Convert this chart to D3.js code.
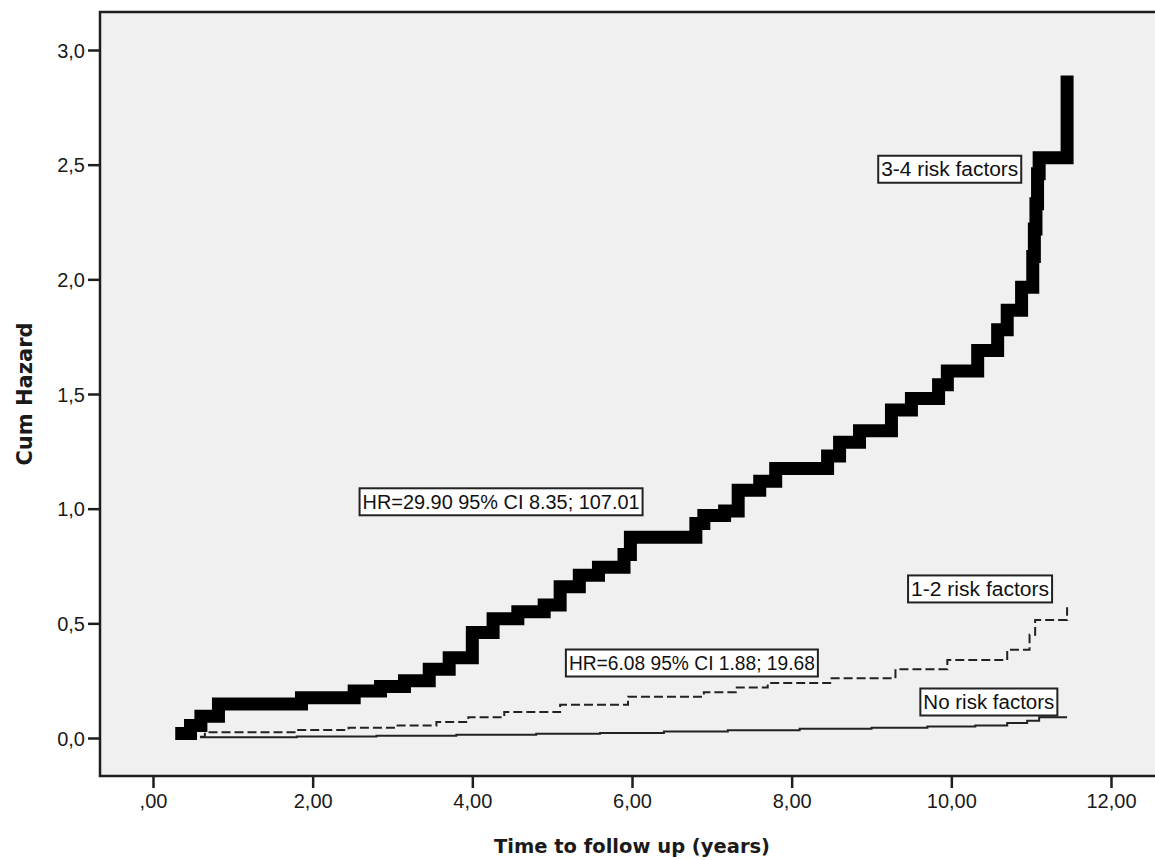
<!DOCTYPE html>
<html>
<head>
<meta charset="utf-8">
<title>Cum Hazard</title>
<style>
    body{
        margin: 0;
        background: #ffffff;
    }
    svg{
        display: block;
    }
</style>
</head>
<body>
<script src="https://d3js.org/d3.v7.min.js"></script>
<script>
    // Cumulative hazard: [time (years), cum hazard]
    const highRisk = [
        [0.36, 0.02], [0.47, 0.055], [0.60, 0.095], [0.82, 0.148],
        [1.86, 0.175], [2.52, 0.205], [2.85, 0.225], [3.15, 0.25],
        [3.46, 0.30], [3.71, 0.35], [4.00, 0.46], [4.26, 0.52],
        [4.57, 0.55], [4.90, 0.58], [5.10, 0.66], [5.34, 0.71],
        [5.58, 0.745], [5.90, 0.80], [5.98, 0.875], [6.80, 0.935],
        [6.90, 0.97], [7.16, 0.99], [7.33, 1.08], [7.60, 1.12],
        [7.80, 1.175], [8.45, 1.23], [8.60, 1.29], [8.85, 1.34],
        [9.25, 1.43], [9.50, 1.48], [9.84, 1.54], [9.95, 1.60],
        [10.33, 1.69], [10.58, 1.78], [10.70, 1.865], [10.88, 1.965],
        [11.02, 2.10], [11.04, 2.22], [11.06, 2.33], [11.08, 2.46],
        [11.10, 2.53], [11.45, 2.86]
    ];
    const midRisk = [
        [0.59, 0.005], [0.65, 0.025], [1.80, 0.035], [2.45, 0.045],
        [3.05, 0.055], [3.55, 0.07], [3.95, 0.09], [4.40, 0.113],
        [5.10, 0.145], [5.95, 0.18], [6.90, 0.20], [7.30, 0.22],
        [7.70, 0.24], [8.50, 0.26], [9.30, 0.30], [9.95, 0.34],
        [10.70, 0.385], [10.98, 0.45], [11.05, 0.515], [11.45, 0.57]
    ];
    const noRisk = [
        [0.59, 0.003], [1.80, 0.006], [2.80, 0.010], [3.80, 0.014],
        [4.80, 0.018], [5.60, 0.022], [6.40, 0.028], [7.20, 0.034],
        [8.10, 0.040], [9.00, 0.045], [9.70, 0.050], [10.30, 0.055],
        [10.70, 0.065], [10.95, 0.075], [11.10, 0.09], [11.45, 0.09]
    ];

    // Tick values and labels
    const xTicks = [0, 2, 4, 6, 8, 10, 12];
    const xTickLabels = [",00", "2,00", "4,00", "6,00", "8,00", "10,00", "12,00"];
    const yTicks = [0, 0.5, 1, 1.5, 2, 2.5, 3];
    const yTickLabels = ["0,0", "0,5", "1,0", "1,5", "2,0", "2,5", "3,0"];

    // Boxed annotations: text with its centre in data units
    const noteTexts = ["3-4 risk factors", "HR=29.90 95% CI 8.35; 107.01", "1-2 risk factors",
                       "HR=6.08 95% CI 1.88; 19.68", "No risk factors"];
    const noteX = [9.98, 4.36, 10.36, 6.75, 10.47];
    const noteY = [2.48, 1.03, 0.65, 0.327, 0.157];
    const noteWidths = [139, 279, 140, 248, 133];

    const width = 1155;
    const height = 860;
    const frame = {left: 100, top: 12, right: 1160, bottom: 776};

    const svg = d3.select("body")
                .append("svg")
                .attr("width", width)
                .attr("height", height);

    const xScale = d3.scaleLinear()
                    .domain([0, 12])
                    .range([153, 1111]);

    const yScale = d3.scaleLinear()
                    .domain([0, 3])
                    .range([738, 50]);

    // plot background
    svg.append("rect")
        .attr("x", frame.left)
        .attr("y", frame.top)
        .attr("width", frame.right - frame.left)
        .attr("height", frame.bottom - frame.top)
        .attr("fill", "#f0f0f0")
        .attr("stroke", "#1e1e1e")
        .attr("stroke-width", 2.5);

    // Axes
    const xAxis = d3.axisBottom(xScale)
                    .tickValues(xTicks)
                    .tickFormat((d, i) => xTickLabels[i])
                    .tickSize(12)
                    .tickSizeOuter(0)
                    .tickPadding(6);

    const yAxis = d3.axisLeft(yScale)
                    .tickValues(yTicks)
                    .tickFormat((d, i) => yTickLabels[i])
                    .tickSize(12)
                    .tickSizeOuter(0)
                    .tickPadding(3);

    const gx = svg.append("g")
        .attr("id", "x-axis")
        .attr("transform", "translate(0," + frame.bottom + ")")
        .call(xAxis);

    const gy = svg.append("g")
        .attr("id", "y-axis")
        .attr("transform", "translate(" + frame.left + ",0)")
        .call(yAxis);

    [gx, gy].forEach(g => {
        g.select(".domain").remove();
        g.selectAll(".tick line").attr("stroke", "#1e1e1e").attr("stroke-width", 2.5);
        g.selectAll(".tick text")
            .attr("fill", "#1a1a1a")
            .style("font-family", "'Liberation Sans', Arial, sans-serif")
            .style("font-size", "20px");
    });
    gy.selectAll(".tick text").attr("dy", "0.36em");

    // Axis titles
    svg.append("text")
        .attr("x", 632)
        .attr("y", 853)
        .attr("text-anchor", "middle")
        .style("font-family", "'DejaVu Sans', Verdana, sans-serif")
        .style("font-weight", "bold")
        .style("font-size", "19.5px")
        .attr("fill", "#1a1a1a")
        .text("Time to follow up (years)");

    svg.append("text")
        .attr("transform", "translate(32,394) rotate(-90)")
        .attr("text-anchor", "middle")
        .style("font-family", "'DejaVu Sans', Verdana, sans-serif")
        .style("font-weight", "bold")
        .style("font-size", "21px")
        .attr("fill", "#1a1a1a")
        .text("Cum Hazard");

    // Step lines
    const line = d3.line()
                .x(d => xScale(d[0]))
                .y(d => yScale(d[1]))
                .curve(d3.curveStepAfter);

    svg.append("path")
        .datum(noRisk)
        .attr("d", line)
        .attr("fill", "none")
        .attr("stroke", "#222")
        .attr("stroke-width", 2);

    svg.append("path")
        .datum(midRisk)
        .attr("d", line)
        .attr("fill", "none")
        .attr("stroke", "#222")
        .attr("stroke-width", 2)
        .attr("stroke-dasharray", "9,4");

    svg.append("path")
        .datum(highRisk)
        .attr("d", line)
        .attr("fill", "none")
        .attr("stroke", "#000")
        .attr("stroke-width", 13)
        .attr("stroke-linecap", "square")
        .attr("stroke-linejoin", "miter");

    // Boxed labels
    const notes = svg.append("g").attr("class", "notes");
    noteTexts.forEach((t, i) => {
        const g = notes.append("g")
                    .attr("transform", "translate(" + xScale(noteX[i]) + "," + yScale(noteY[i]) + ")");
        const w = noteWidths[i];
        g.append("rect")
            .attr("x", -w / 2 - 2)
            .attr("y", -13.5)
            .attr("width", w + 4)
            .attr("height", 27)
            .attr("fill", "#ffffff")
            .attr("stroke", "#222")
            .attr("stroke-width", 2);
        g.append("text")
            .attr("text-anchor", "middle")
            .attr("dy", "0.36em")
            .attr("textLength", w - 2)
            .attr("lengthAdjust", "spacingAndGlyphs")
            .style("font-family", "'Liberation Sans', Arial, sans-serif")
            .style("font-size", "20px")
            .attr("fill", "#111")
            .text(t);
    });
</script>
</body>
</html>
